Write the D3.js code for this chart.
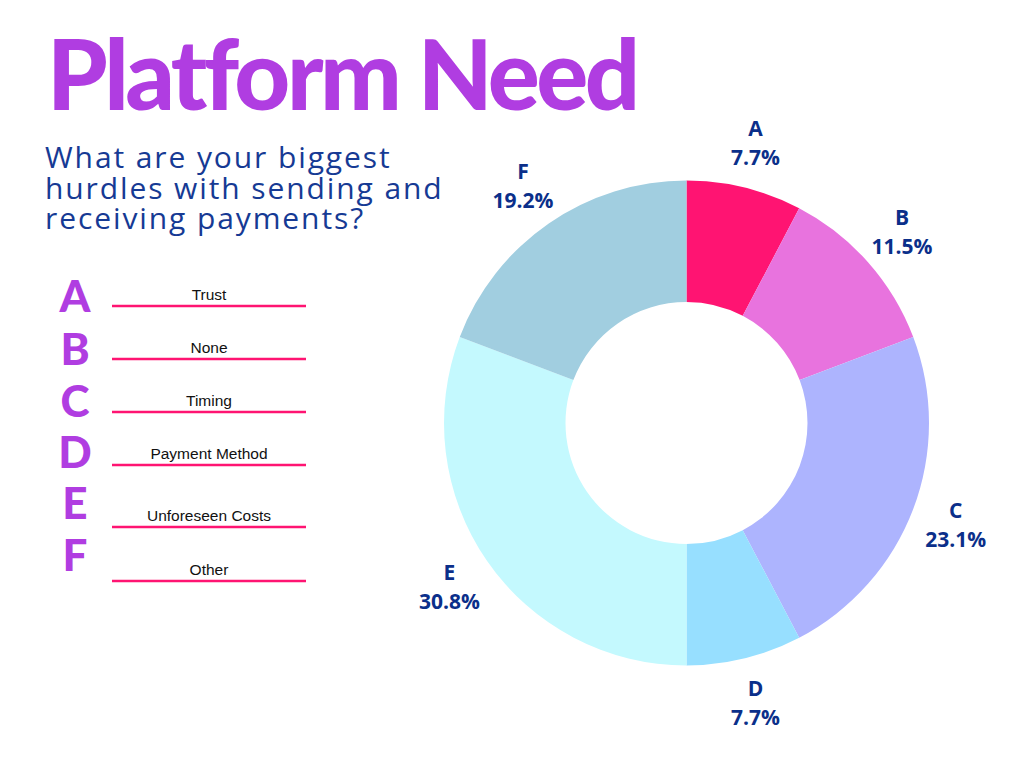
<!DOCTYPE html>
<html><head><meta charset="utf-8">
<script src="https://cdn.jsdelivr.net/npm/d3@7"></script>
<style>html,body{margin:0;padding:0;background:#fff;}</style>
</head><body>
<script>
const categories = ["A","B","C","D","E","F"];
const counts = [2,3,6,2,8,5];
const percentLabels = ["7.7%","11.5%","23.1%","7.7%","30.8%","19.2%"];
const legendLabels = ["Trust","None","Timing","Payment Method","Unforeseen Costs","Other"];
const colors = ["#ff1472","#e873de","#adb4fe","#97dfff","#c4f9fe","#a1cee0"];

const W=1024,H=768;
const svg=d3.select("body").append("svg").attr("width",W).attr("height",H);
svg.append("rect").attr("width",W).attr("height",H).attr("fill","#fff");

// Title
svg.append("text").attr("x",47).attr("y",110)
  .attr("font-family","Lato").attr("font-weight",900).attr("font-size",97)
  .attr("letter-spacing",-3.5)
  .attr("fill","#b03de1").text("Platform Need");

// Subtitle
const sub=["What are your biggest","hurdles with sending and","receiving payments?"];
svg.append("g").selectAll("text").data(sub).join("text")
  .attr("x",45).attr("y",(d,i)=>168+i*30.5)
  .attr("font-family","Open Sans").attr("font-size",30).attr("letter-spacing",1.9)
  .attr("fill","#163a94").text(d=>d);

// Legend
const letterY=[296,349,401,452,503,555];
const lineY=[306,359,412,465,527,581];
const lg=svg.append("g");
lg.selectAll(".ll").data(categories).join("text").attr("class","ll")
  .attr("x",75).attr("y",(d,i)=>letterY[i]).attr("dy","0.36em")
  .attr("text-anchor","middle").attr("font-family","Lato").attr("font-weight",900)
  .attr("font-size",44).attr("fill","#b03de1").text(d=>d);
lg.selectAll("line").data(categories).join("line")
  .attr("x1",112).attr("x2",306).attr("y1",(d,i)=>lineY[i]).attr("y2",(d,i)=>lineY[i])
  .attr("stroke","#ff1472").attr("stroke-width",2.5);
lg.selectAll(".lt").data(legendLabels).join("text").attr("class","lt")
  .attr("x",209).attr("y",(d,i)=>lineY[i]-6)
  .attr("text-anchor","middle").attr("font-family","Liberation Sans").attr("font-size",15.5)
  .attr("fill","#111").text(d=>d);

// Donut
const cx=686.5,cy=423,R=242.5,r0=121;
const pie=d3.pie().sort(null).value(d=>d);
const arcs=pie(counts);
const arc=d3.arc().innerRadius(r0).outerRadius(R);
const g=svg.append("g").attr("transform",`translate(${cx},${cy})`);
g.selectAll("path").data(arcs).join("path").attr("d",arc).attr("fill",(d,i)=>colors[i]);

const lr=288;
const lab=g.selectAll(".lab").data(arcs).join("g").attr("class","lab")
  .attr("transform",d=>{const a=(d.startAngle+d.endAngle)/2;return `translate(${lr*Math.sin(a)},${-lr*Math.cos(a)})`;});
lab.append("text").attr("y",-14.5).attr("dy","0.36em").attr("text-anchor","middle")
  .attr("font-family","Open Sans").attr("font-weight",700).attr("font-size",21)
  .attr("fill","#0b2f8a").text((d,i)=>categories[i]);
lab.append("text").attr("y",14.5).attr("dy","0.36em").attr("text-anchor","middle")
  .attr("font-family","Open Sans").attr("font-weight",700).attr("font-size",21)
  .attr("fill","#0b2f8a").text((d,i)=>percentLabels[i]);
</script>
</body></html>
